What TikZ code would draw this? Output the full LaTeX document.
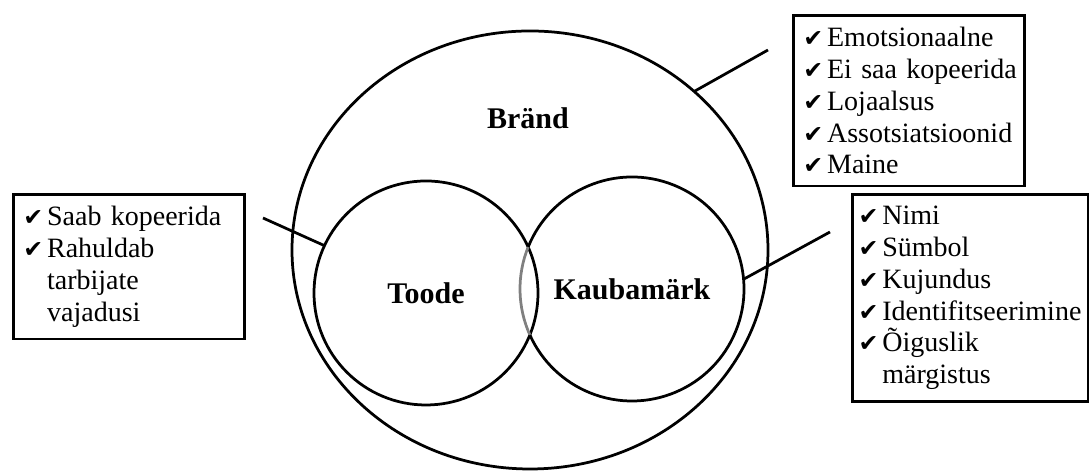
\documentclass[tikz,border=0pt]{standalone}
\usepackage{fontspec}
\setmainfont{Liberation Serif}
\newfontfamily\ticksym{DejaVu Sans}
\newcommand{\chk}{\makebox[9.5pt][l]{\ticksym\fontsize{9.5}{11}\selectfont ✔}}
\newcommand{\itm}[1]{\mbox{\chk #1}}
\newcommand{\hang}[1]{\mbox{\hspace*{9.5pt}#1}}
\usetikzlibrary{shapes.geometric}

\begin{document}
\begin{tikzpicture}[
    x=0.4pt, y=0.4pt,
    ring/.style={circle, draw, line width=1.1pt, minimum size=89.6pt,
                 inner sep=0pt, outer sep=0pt,
                 font=\fontsize{12}{14}\selectfont\bfseries},
    listbox/.style={draw, line width=1.1pt, anchor=north west, align=left,
                    inner xsep=4pt, inner ysep=4.8pt,
                    font=\fontsize{11.2}{12.7}\selectfont},
    lead/.style={line width=1.1pt},
  ]
  \useasboundingbox (0,0) rectangle (1089,471);
  % --- circles ---
  \node[ellipse, draw, line width=1.1pt, minimum width=190.4pt,
        minimum height=175.2pt, inner sep=0pt, outer sep=0pt] (brand) at (530,221) {};
  \node[font=\fontsize{12}{14}\selectfont\bfseries] (brandlbl) at (528,353) {Bränd};
  \node[ring] (toode) at (426,178) {Toode};
  \node[ring, draw=none] (kaub) at (632,182) {Kaubamärk};
  \draw[line width=1.1pt] (kaub.158) arc[start angle=158, end angle=-155.8, radius=44.8pt];
  \draw[line width=1.1pt, black!50] (kaub.158) arc[start angle=158, end angle=204.2, radius=44.8pt];
  % --- lists ---
  \node[listbox, text width=84.4pt] (brandlist) at (792,457)
    {\itm{Emotsionaalne}\\ \itm{Ei saa kopeerida}\\ \itm{Lojaalsus}\\
     \itm{Assotsiatsioonid}\\ \itm{Maine}};
  \node[listbox, text width=84.4pt] (toodelist) at (12,278)
    {\itm{Saab kopeerida}\\ \itm{Rahuldab}\\ \hang{tarbijate}\\ \hang{vajadusi}};
  \node[listbox, inner xsep=2.5pt, text width=89.4pt] (kaublist) at (851,278)
    {\itm{Nimi}\\ \itm{Sümbol}\\ \itm{Kujundus}\\ \itm{Identifitseerimine}\\
     \itm{Õiguslik}\\ \hang{märgistus}};
  % --- leaders ---
  \coordinate (brandend) at (768,421);
  \coordinate (toodeend) at (263,253);
  \coordinate (kaubend) at (830,239);
  \draw[lead] (brand.44) -- (brandend);
  \draw[lead] (toode.155) -- (toodeend);
  \draw[lead] (kaub.5) -- (kaubend);
\end{tikzpicture}
\end{document}
